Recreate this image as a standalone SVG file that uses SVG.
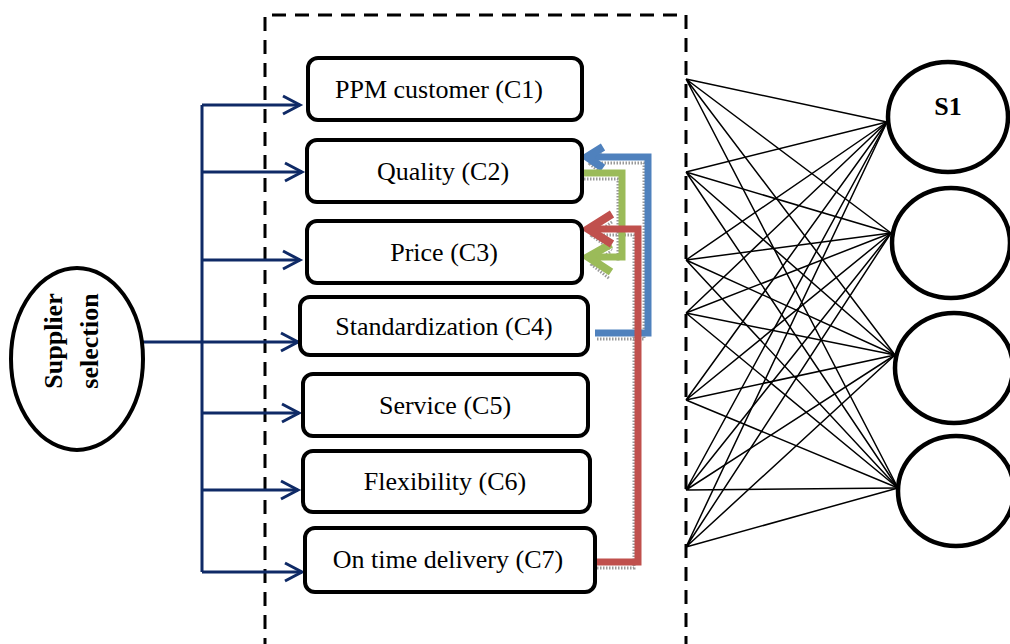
<svg xmlns="http://www.w3.org/2000/svg" width="1010" height="644" viewBox="0 0 1010 644">
<defs>
<style>
.box{fill:#fff;stroke:#000;stroke-width:4}
.lbl{font-family:"Liberation Serif","Times New Roman",serif;font-size:26px;fill:#000;text-anchor:middle}
.bold{font-weight:bold}
.nav{fill:none;stroke:#0f2a66;stroke-width:3}
.mesh{stroke:#000;stroke-width:1.5;fill:none}
.fb{fill:none;stroke-width:7;stroke-linejoin:miter;stroke-linecap:butt}
.fh{fill:none;stroke-width:8;stroke-linejoin:miter;stroke-linecap:butt}
.sh{fill:none;stroke:#999;stroke-width:3;stroke-dasharray:1.5 1.5}
.circ{fill:#fff;stroke:#000;stroke-width:4.5}
</style>
<marker id="chev" markerUnits="userSpaceOnUse" markerWidth="24" markerHeight="24" refX="18" refY="9" orient="auto" overflow="visible">
<path d="M1,0 L18,9 L1,18" fill="none" stroke="#0f2a66" stroke-width="3"/>
</marker>
</defs>

<!-- dashed container -->
<g id="container">
<path d="M265,652 V15 H686 V652" fill="none" stroke="#000" stroke-width="3" stroke-dasharray="14 9"/>
</g>

<!-- connectors -->
<g id="connectors">
<g class="mesh">
<path d="M686,79 L887,122 M686,79 L891,233 M686,79 L895,355 M686,79 L898,488"/>
<path d="M686,172 L887,122 M686,172 L891,233 M686,172 L895,355 M686,172 L898,488"/>
<path d="M686,260 L887,122 M686,260 L891,233 M686,260 L895,355 M686,260 L898,488"/>
<path d="M686,313 L887,122 M686,313 L891,233 M686,313 L895,355 M686,313 L898,488"/>
<path d="M686,400 L887,122 M686,400 L891,233 M686,400 L895,355 M686,400 L898,488"/>
<path d="M686,490 L887,122 M686,490 L891,233 M686,490 L895,355 M686,490 L898,488"/>
<path d="M686,547 L887,122 M686,547 L891,233 M686,547 L895,355 M686,547 L898,488"/>
</g>
<path class="nav" d="M202,105 V572"/>
<path class="nav" d="M202,105 H300" marker-end="url(#chev)"/>
<path class="nav" d="M202,172 H302" marker-end="url(#chev)"/>
<path class="nav" d="M202,260 H300" marker-end="url(#chev)"/>
<path class="nav" d="M143,342 H298" marker-end="url(#chev)"/>
<path class="nav" d="M202,413 H299" marker-end="url(#chev)"/>
<path class="nav" d="M202,490 H298" marker-end="url(#chev)"/>
<path class="nav" d="M202,572 H302" marker-end="url(#chev)"/>
<g class="sh">
<path d="M597,339 H644 V163 H598"/>
<path d="M584,179 H618 V262"/>
<path d="M597,568 H634 V235 H600"/>
<path d="M602,154 L590,164 L602,174"/>
<path d="M610,252 L592,265 L610,279"/>
<path d="M612,222 L592,236 L612,250"/>
</g>
<path class="fb" stroke="#4f81bd" d="M595,333 H648 V157 H590"/>
<path class="fh" stroke="#4f81bd" d="M603,147 L587,157 L603,168"/>
<path class="fb" stroke="#9bbb59" d="M583,173 H622 V257 H592"/>
<path class="fh" stroke="#9bbb59" d="M611,244 L588,257 L611,272"/>
<path class="fb" stroke="#c0504d" d="M595,562 H638 V229 H592"/>
<path class="fh" stroke="#c0504d" d="M612,214 L588,229 L612,244"/>
</g>

<g id="supplier-selection">
<ellipse cx="77" cy="359" rx="66" ry="91" fill="#fff" stroke="#000" stroke-width="4"/>
<text class="lbl bold" transform="translate(62,341) rotate(-90)">Supplier</text>
<text class="lbl bold" transform="translate(98,341) rotate(-90)">selection</text>
</g>

<g id="c1"><rect class="box" x="308" y="58" width="274" height="62" rx="10"/><text class="lbl" x="439" y="98">PPM customer (C1)</text></g>
<g id="c2"><rect class="box" x="307" y="140" width="275" height="62" rx="10"/><text class="lbl" x="443" y="180">Quality (C2)</text></g>
<g id="c3"><rect class="box" x="307" y="221" width="275" height="62" rx="10"/><text class="lbl" x="444" y="261">Price (C3)</text></g>
<g id="c4"><rect class="box" x="300" y="297" width="288" height="58" rx="10"/><text class="lbl" x="444" y="335">Standardization (C4)</text></g>
<g id="c5"><rect class="box" x="303" y="374" width="285" height="62" rx="10"/><text class="lbl" x="445" y="414">Service (C5)</text></g>
<g id="c6"><rect class="box" x="303" y="451" width="287" height="61" rx="10"/><text class="lbl" x="445" y="490">Flexibility (C6)</text></g>
<g id="c7"><rect class="box" x="305" y="528" width="290" height="64" rx="10"/><text class="lbl" x="448" y="568">On time delivery (C7)</text></g>

<g id="s1"><ellipse class="circ" cx="948" cy="117" rx="60" ry="55"/><text class="lbl bold" x="948" y="115">S1</text></g>
<g id="s2"><ellipse class="circ" cx="951" cy="243" rx="59" ry="55"/></g>
<g id="s3"><ellipse class="circ" cx="954" cy="368" rx="59" ry="55"/></g>
<g id="s4"><ellipse class="circ" cx="956" cy="491" rx="58" ry="55"/></g>
</svg>
